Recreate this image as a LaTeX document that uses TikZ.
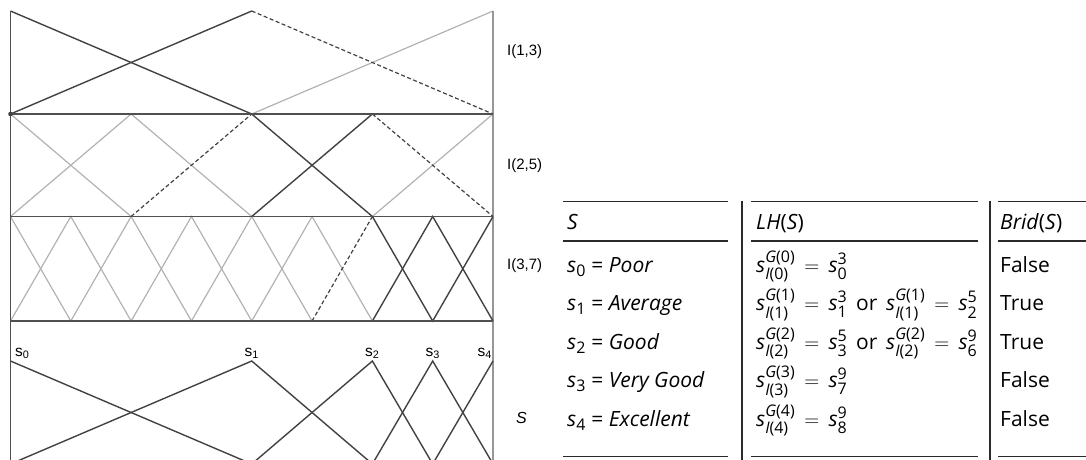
\documentclass[tikz,border=0pt]{standalone}
\usepackage{amsmath}
\usepackage{fontspec}
\setmainfont{Liberation Sans}
\newfontfamily\tabfont{Open Sans}
\DeclareMathSizes{21}{21}{16}{12}
\thickmuskip=8mu plus 2mu\relax
\definecolor{dkc}{HTML}{424242}
\definecolor{ltc}{HTML}{B2B2B2}
\definecolor{bandc}{HTML}{505050}
\definecolor{rulec}{HTML}{2A2A2A}
\newcommand{\ms}{\text{\itshape s}}
\newcommand{\lhs}[1]{\ms^{\text{\itshape G}\text{(#1)}}_{\text{\itshape I}\text{(#1)}}}
\newcommand{\lvs}[2]{\ms^{\text{#1}}_{\text{#2}}}
\newcommand{\orw}{\hspace{0.42em}or\hspace{0.42em}}
\tikzset{
  dk/.style={draw=dkc, line width=1.4pt},
  lt/.style={draw=ltc, line width=1.2pt},
  dsh/.style={draw=dkc, line width=1.2pt, dash pattern=on 4pt off 2.5pt},
  band/.style={draw=bandc, line width=1.9pt},
  edgel/.style={draw=bandc, line width=1.6pt},
  edger/.style={draw=ltc!85!black, line width=1.1pt},
  rulel/.style={draw=rulec, line width=1.9pt},
  lbl/.style={font=\fontsize{15}{17}\selectfont, anchor=west, inner sep=0pt},
  slbl/.style={font=\fontsize{15.5}{17}\selectfont, inner sep=0pt, anchor=base},
  cell/.style={font=\tabfont\fontsize{21}{24}\selectfont, anchor=base west, inner sep=0pt},
}
\begin{document}
\begin{tikzpicture}[x=1pt,y=-1pt]
\useasboundingbox (0,0) rectangle (1086,459);
\clip (0,0) rectangle (1086,459);
% x positions of the 9 grid points
\foreach \k in {0,...,8}{\coordinate (x\k) at ({10.5+60.3125*\k},0);}
\def\ya{11}\def\yb{114}\def\yc{216.5}\def\yd{321}\def\ye{361}\def\yf{464}
% ---------- light lines first ----------
% level I(1,3)
\draw[lt] (x4|-0,\yb) -- (x8|-0,\ya);
% level I(2,5)
\draw[lt] (x0|-0,\yb) -- (x2|-0,\yc);
\draw[lt] (x0|-0,\yc) -- (x2|-0,\yb) -- (x4|-0,\yc);
\draw[lt] (x6|-0,\yc) -- (x8|-0,\yb);
% level I(3,7)
\draw[lt] (x0|-0,\yc) -- (x1|-0,\yd) -- (x2|-0,\yc) -- (x3|-0,\yd) -- (x4|-0,\yc) -- (x5|-0,\yd);
\draw[lt] (x0|-0,\yd) -- (x1|-0,\yc) -- (x2|-0,\yd) -- (x3|-0,\yc) -- (x4|-0,\yd) -- (x5|-0,\yc) -- (x6|-0,\yd);
% right edge
\draw[edger] (x8|-0,\ya) -- (x8|-0,470);
% ---------- dashed ----------
\draw[dsh] (x4|-0,\ya) -- (x8|-0,\yb);
\draw[dsh] (x2|-0,\yc) -- (x4|-0,\yb);
\draw[dsh] (x6|-0,\yb) -- (x8|-0,\yc);
\draw[dsh] (x5|-0,\yd) -- (x6|-0,\yc);
% ---------- dark lines ----------
\draw[dk] (x0|-0,\ya) -- (x4|-0,\yb);
\draw[dk] (x0|-0,\yb) -- (x4|-0,\ya);
\draw[dk] (x4|-0,\yb) -- (x6|-0,\yc);
\draw[dk] (x4|-0,\yc) -- (x6|-0,\yb);
\draw[dk] (x6|-0,\yc) -- (x7|-0,\yd) -- (x8|-0,\yc);
\draw[dk] (x6|-0,\yd) -- (x7|-0,\yc) -- (x8|-0,\yd);
% level S
\draw[dk] (x0|-0,\ye) -- (x4|-0,\yf);
\draw[dk] (x0|-0,\yf) -- (x4|-0,\ye) -- (x6|-0,\yf);
\draw[dk] (x4|-0,\yf) -- (x6|-0,\ye) -- (x7|-0,\yf);
\draw[dk] (x6|-0,\yf) -- (x7|-0,\ye) -- (x8|-0,\yf);
\draw[dk] (x7|-0,\yf) -- (x8|-0,\ye);
% band lines and left edge
\draw[band] (x0|-0,\yb) -- (x8|-0,\yb);
\draw[band] (x0|-0,\yc) -- (x8|-0,\yc);
\draw[band] (x0|-0,\yd) -- (x8|-0,\yd);
\draw[edgel] (x0|-0,\ya) -- (x0|-0,470);
\fill[dkc] (x0|-0,\yb) circle (2.3pt);
% labels
\node[lbl] (l13) at (507,52) {I(1,3)};
\node[lbl] (l25) at (507,166) {I(2,5)};
\node[lbl] (l37) at (507,266) {I(3,7)};
\node[lbl, font=\fontsize{16}{18}\selectfont\itshape] (lS) at (516,418) {S};
\node[slbl, anchor=base west] (s0) at (15,356) {s\textsubscript{0}};
\node[slbl] (s1) at (x4|-0,356) {s\textsubscript{1}};
\node[slbl] (s2) at (x6|-0,356) {s\textsubscript{2}};
\node[slbl] (s3) at (x7|-0,356) {s\textsubscript{3}};
\node[slbl, anchor=base east] (s4) at (492,356) {s\textsubscript{4}};
% ---------- table ----------
\draw[rulel] (563,201.5) -- (728,201.5);
\draw[rulel] (751,201.5) -- (978,201.5);
\draw[rulel] (998,201.5) -- (1090,201.5);
\draw[rulel] (563,241) -- (728,241);
\draw[rulel] (751,241) -- (978,241);
\draw[rulel] (998,241) -- (1090,241);
\draw[rulel] (563,456.5) -- (728,456.5);
\draw[rulel] (751,456.5) -- (978,456.5);
\draw[rulel] (998,456.5) -- (1090,456.5);
\draw[rulel] (742,200.5) -- (742,470);
\draw[rulel] (990,200.5) -- (990,470);
\node[cell] (h1) at (567,229) {\itshape S};
\node[cell] (h2) at (756,229) {\textit{LH}(\textit{S})};
\node[cell] (h3) at (1000,229) {\textit{Brid}(\textit{S})};
\node[cell] (a0) at (567,272) {\textit{s}\textsubscript{0} = \textit{Poor}};
\node[cell] (a1) at (567,310.5) {\textit{s}\textsubscript{1} = \textit{Average}};
\node[cell] (a2) at (567,349) {\textit{s}\textsubscript{2} = \textit{Good}};
\node[cell] (a3) at (567,387.5) {\textit{s}\textsubscript{3} = \textit{Very Good}};
\node[cell] (a4) at (567,426) {\textit{s}\textsubscript{4} = \textit{Excellent}};
\node[cell] (b0) at (756,272) {$\lhs{0} = \lvs{3}{0}$};
\node[cell] (b1) at (756,310.5) {$\lhs{1} = \lvs{3}{1}$\orw$\lhs{1} = \lvs{5}{2}$};
\node[cell] (b2) at (756,349) {$\lhs{2} = \lvs{5}{3}$\orw$\lhs{2} = \lvs{9}{6}$};
\node[cell] (b3) at (756,387.5) {$\lhs{3} = \lvs{9}{7}$};
\node[cell] (b4) at (756,426) {$\lhs{4} = \lvs{9}{8}$};
\node[cell] (c0) at (1000,272) {False};
\node[cell] (c1) at (1000,310.5) {True};
\node[cell] (c2) at (1000,349) {True};
\node[cell] (c3) at (1000,387.5) {False};
\node[cell] (c4) at (1000,426) {False};
\end{tikzpicture}
\end{document}
